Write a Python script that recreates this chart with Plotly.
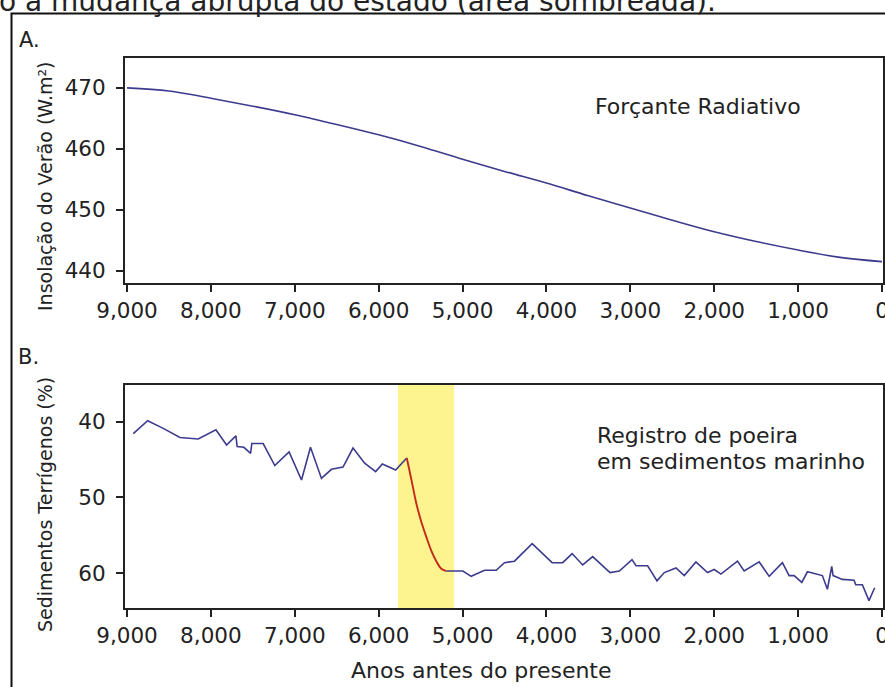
import plotly.graph_objects as go

W, H = 885, 687

# ---------- data ----------
insol_years = [9000, 8500, 8000, 7500, 7000, 6500, 6000, 5500, 5000, 4500,
               4000, 3500, 3000, 2500, 2000, 1500, 1000, 500, 0]
insol_values = [470.0, 469.5, 468.3, 467.0, 465.6, 464.0, 462.3, 460.4, 458.3, 456.3,
                454.4, 452.3, 450.3, 448.3, 446.4, 444.8, 443.4, 442.2, 441.5]

dust_years_before = [8925, 8754, 8568, 8369, 8151, 7940, 7813, 7702, 7687, 7607,
                     7527, 7512, 7377, 7238, 7068, 6920, 6813, 6682, 6563, 6425,
                     6306, 6167, 6036, 5956, 5798, 5665]
dust_values_before = [41.6, 39.9, 40.9, 42.1, 42.3, 41.1, 43.1, 41.9, 43.3, 43.4,
                      44.2, 42.9, 42.9, 45.8, 44.0, 47.7, 43.4, 47.5, 46.3, 46.0,
                      43.5, 45.5, 46.6, 45.6, 46.4, 44.8]

dust_years_shift = [5665, 5611, 5551, 5492, 5432, 5373, 5313, 5254, 5194]
dust_values_shift = [44.8, 47.6, 50.8, 53.2, 55.2, 57.0, 58.4, 59.4, 59.7]

dust_years_after = [5194, 4996, 4897, 4738, 4599, 4500, 4381, 4170, 3932, 3806,
                    3694, 3568, 3449, 3242, 3131, 2980, 2932, 2794, 2682, 2595,
                    2456, 2357, 2218, 2080, 2000, 1920, 1723, 1643, 1464, 1345,
                    1187, 1107, 1048, 956, 889, 711, 651, 599, 583, 472,
                    333, 313, 234, 155, 87]
dust_values_after = [59.7, 59.7, 60.4, 59.6, 59.6, 58.6, 58.4, 56.1, 58.6, 58.6,
                     57.4, 58.9, 57.8, 59.9, 59.7, 58.2, 59.0, 59.0, 61.0, 59.9,
                     59.3, 60.3, 58.5, 59.9, 59.5, 60.1, 58.4, 59.7, 58.5, 60.4,
                     58.6, 60.3, 60.3, 61.2, 59.8, 60.3, 62.1, 59.1, 60.3, 60.8,
                     60.9, 61.5, 61.5, 63.6, 61.9]

shade_start, shade_end = 5770, 5100

x_tickvals = [9000, 8000, 7000, 6000, 5000, 4000, 3000, 2000, 1000, 0]
x_ticktext = ["9,000", "8,000", "7,000", "6,000", "5,000", "4,000", "3,000", "2,000", "1,000", "0"]
insol_ticks = [440, 450, 460, 470]
dust_ticks = [40, 50, 60]

# ---------- helpers ----------
def px(x):
    return x / W

def py(y):
    return 1 - y / H

FONT = "DejaVu Sans"
INK = "#222222"
BLUE = "#3c3b8e"
RED = "#c42a1c"

fig = go.Figure()

fig.add_trace(go.Scatter(x=insol_years, y=insol_values, mode="lines",
                         line=dict(color=BLUE, width=1.6, shape="spline"),
                         xaxis="x", yaxis="y", showlegend=False, hoverinfo="skip"))

fig.add_trace(go.Scatter(x=dust_years_before, y=dust_values_before, mode="lines",
                         line=dict(color=BLUE, width=1.6),
                         xaxis="x2", yaxis="y2", showlegend=False, hoverinfo="skip"))
fig.add_trace(go.Scatter(x=dust_years_after, y=dust_values_after, mode="lines",
                         line=dict(color=BLUE, width=1.6),
                         xaxis="x2", yaxis="y2", showlegend=False, hoverinfo="skip"))
fig.add_trace(go.Scatter(x=dust_years_shift, y=dust_values_shift, mode="lines",
                         line=dict(color=RED, width=1.9, shape="spline"),
                         xaxis="x2", yaxis="y2", showlegend=False, hoverinfo="skip"))

xdom = [px(125), px(883)]
common_x = dict(range=[9024, -12], domain=xdom, tickvals=x_tickvals, ticktext=x_ticktext,
                ticks="outside", ticklen=7, tickwidth=2, tickcolor=INK,
                showline=True, linewidth=2, linecolor=INK, mirror=True,
                showgrid=False, zeroline=False, automargin=False,
                ticklabeloverflow="allow",
                tickfont=dict(family=FONT, size=21.5, color=INK), ticklabelstandoff=0)
common_y = dict(ticks="outside", ticklen=7, tickwidth=2, tickcolor=INK,
                showline=True, linewidth=2, linecolor=INK, mirror=True,
                showgrid=False, zeroline=False, automargin=False,
                tickfont=dict(family=FONT, size=21.5, color=INK), ticklabelstandoff=6)

fig.update_layout(
    width=W, height=H,
    margin=dict(l=0, r=0, t=0, b=0, autoexpand=False),
    paper_bgcolor="white", plot_bgcolor="white",
    font=dict(family=FONT, color=INK),
    xaxis=dict(anchor="y", **common_x),
    yaxis=dict(anchor="x", domain=[py(283), py(58)], range=[438.0, 474.9],
               tickvals=insol_ticks, **common_y),
    xaxis2=dict(anchor="y2", **common_x),
    yaxis2=dict(anchor="x2", domain=[py(608), py(385)], range=[64.57, 35.19],
                tickvals=dust_ticks, **common_y),
)

# shaded abrupt-change area
fig.add_shape(type="rect", xref="x2", yref="y2 domain", x0=shade_start, x1=shade_end,
              y0=0, y1=1, fillcolor="#fdf38f", line=dict(width=0), layer="below")

# outer frame
fig.add_shape(type="rect", xref="paper", yref="paper", x0=px(11.5), x1=1.05,
              y0=-0.05, y1=py(13.5), line=dict(color="#111111", width=2),
              fillcolor="rgba(0,0,0,0)")

def ann(text, x, y, size, xanchor="center", yanchor="middle", angle=0):
    fig.add_annotation(text=text, x=px(x), y=py(y), xref="paper", yref="paper",
                       xanchor=xanchor, yanchor=yanchor, textangle=angle,
                       showarrow=False, font=dict(family=FONT, size=size, color=INK))

ann("o a mudança abrupta do estado (área sombreada).", 718, 20, 28,
    xanchor="right", yanchor="bottom")
ann("A.", 29, 40, 21)
ann("B.", 28, 357, 21)
ann("Insolação do Verão (W.m²)", 45, 186, 19, angle=-90)
ann("Sedimentos Terrígenos (%)", 45, 505, 19, angle=-90)
ann("Forçante Radiativo", 593, 106, 22, xanchor="left")
ann("Registro de poeira", 595, 435, 22, xanchor="left")
ann("em sedimentos marinho", 595, 461, 22, xanchor="left")
ann("Anos antes do presente", 481, 670, 22)

fig.write_html("out.html", config={"displayModeBar": False},
               post_script="document.body.style.margin='0';document.body.style.overflow='hidden';")
